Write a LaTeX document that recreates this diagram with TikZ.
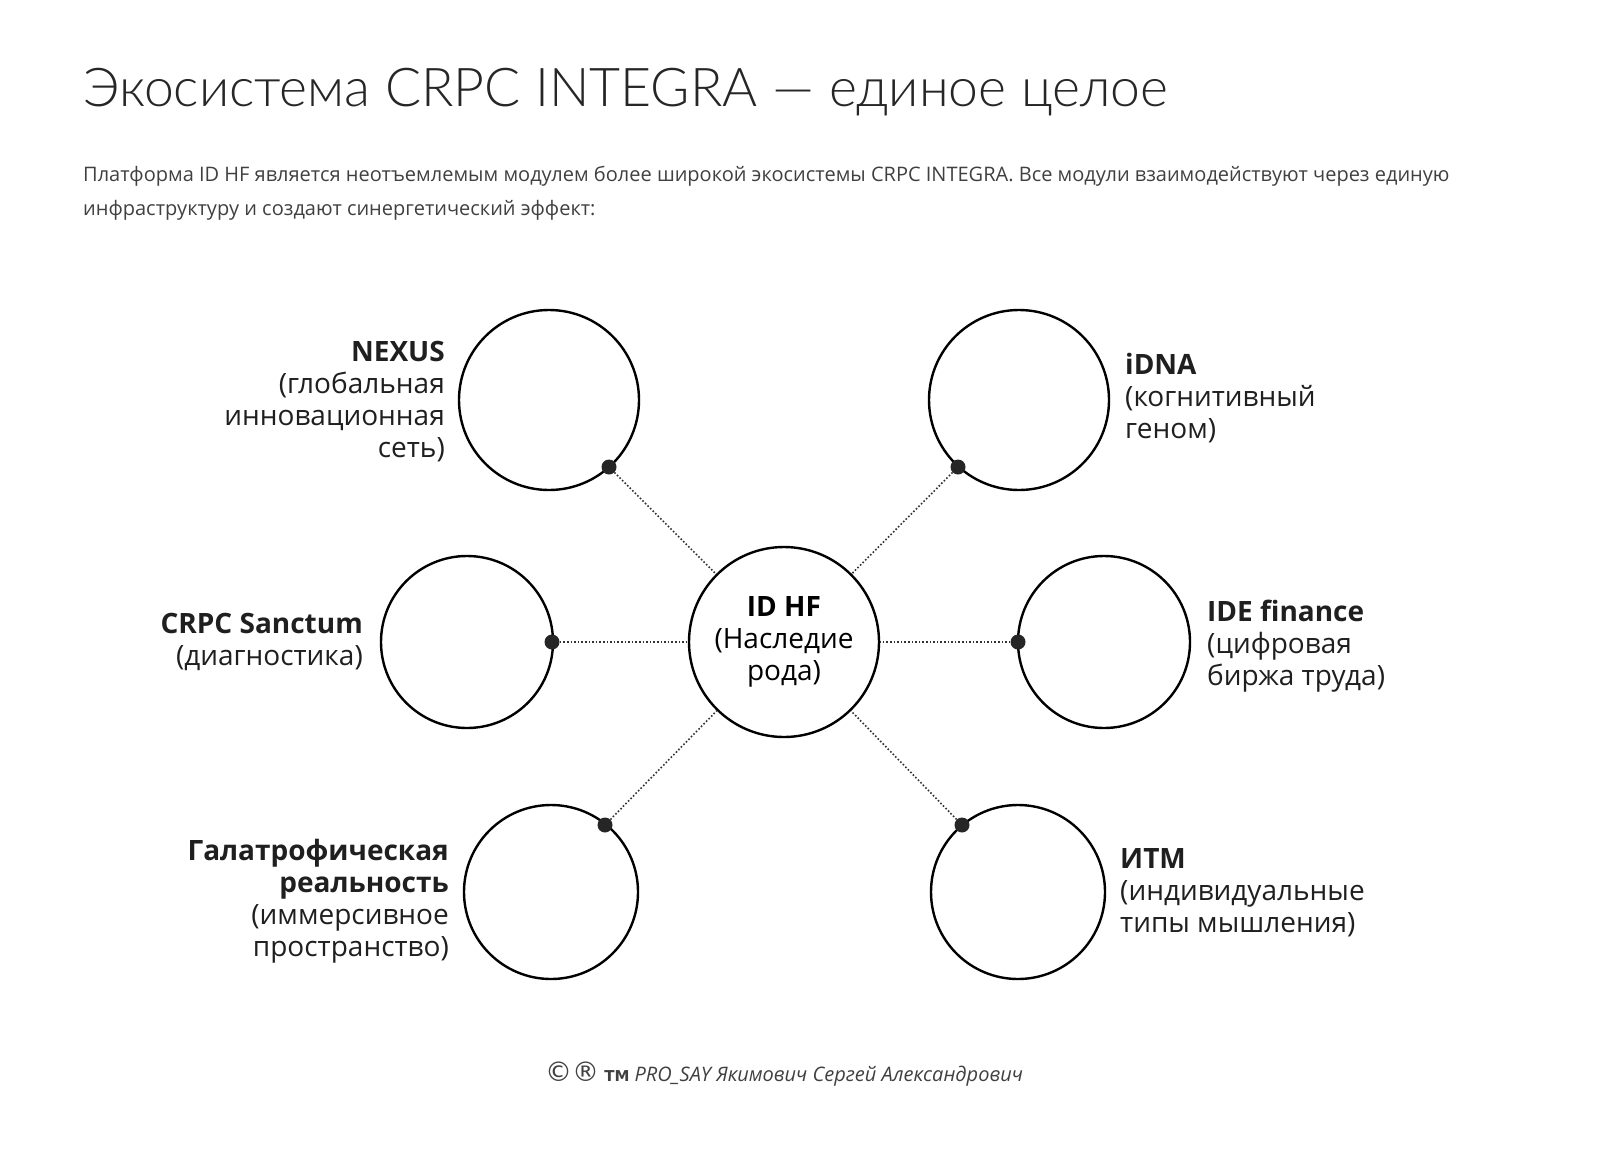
\documentclass[tikz,border=0pt]{standalone}
\usepackage{fontspec}
\setmainfont{Open Sans}
\newfontfamily\titlefont{Lato Light}
\newfontfamily\symfont{DejaVu Sans}
\begin{document}
\begin{tikzpicture}[x=1pt,y=-1pt,
  mod/.style={circle,draw,line width=2.4pt,minimum size=#1,inner sep=0pt},
  dotn/.style={circle,fill=black!85,minimum size=15pt,inner sep=0pt},
  conn/.style={dotted,line width=1.6pt,black!80},
  lbl/.style={font=\fontsize{28}{32}\selectfont,text=black!88,inner sep=0pt},
]
\useasboundingbox (0,0) rectangle (1600,1172);
\node[anchor=base west,inner sep=0pt,font=\titlefont\fontsize{53.5}{56}\selectfont,text=black!85] (title) at (83,106) {Экосистема CRPC INTEGRA — единое целое};
\node[anchor=north west,inner sep=0pt,align=left,font=\fontsize{20}{34}\selectfont,text=black!75] (intro) at (83,166) {Платформа ID HF является неотъемлемым модулем более широкой экосистемы CRPC INTEGRA. Все модули взаимодействуют через единую\\инфраструктуру и создают синергетический эффект:};

\node[mod=190pt,align=center,font=\fontsize{28}{32}\selectfont] (c) at (784,642) {\textbf{ID HF}\\(Наследие\\рода)};
\node[mod=180pt] (nexus) at (549,400) {};
\node[mod=180pt] (idna) at (1019,400) {};
\node[mod=172pt] (san) at (467,642) {};
\node[mod=172pt] (ide) at (1104,642) {};
\node[mod=174pt] (gal) at (551,892) {};
\node[mod=174pt] (itm) at (1018,892) {};

\node[dotn] (d1) at (609,467) {};
\node[dotn] (d2) at (958,467) {};
\node[dotn] (d3) at (552,642) {};
\node[dotn] (d4) at (1018,642) {};
\node[dotn] (d5) at (605,825) {};
\node[dotn] (d6) at (962,825) {};
\foreach \d in {d1,d2,d3,d4,d5,d6} \draw[conn] (\d) -- (c);

\node[lbl,align=right,anchor=north east] (t1) at (445,341) {\textbf{NEXUS}\\(глобальная\\инновационная\\сеть)};
\node[lbl,align=left,anchor=north west] (t2) at (1125,353) {\textbf{iDNA}\\(когнитивный\\геном)};
\node[lbl,align=right,anchor=north east] (t3) at (363,613) {\textbf{CRPC Sanctum}\\(диагностика)};
\node[lbl,align=left,anchor=north west] (t4) at (1207,600) {\textbf{IDE finance}\\(цифровая\\биржа труда)};
\node[lbl,align=right,anchor=north east] (t5) at (449,839) {\textbf{Галатрофическая}\\\textbf{реальность}\\(иммерсивное\\пространство)};
\node[lbl,align=left,anchor=north west] (t6) at (1120,848) {\textbf{ИТМ}\\(индивидуальные\\типы мышления)};

\node[anchor=base,inner sep=0pt,font=\fontsize{20}{24}\selectfont,text=black!75] (foot) at (784,1081) {{\symfont\fontsize{27}{24}\selectfont ©®} {\symfont\bfseries\fontsize{15}{24}\selectfont TM} \textit{PRO\_SAY Якимович Сергей Александрович}};
\end{tikzpicture}
\end{document}
